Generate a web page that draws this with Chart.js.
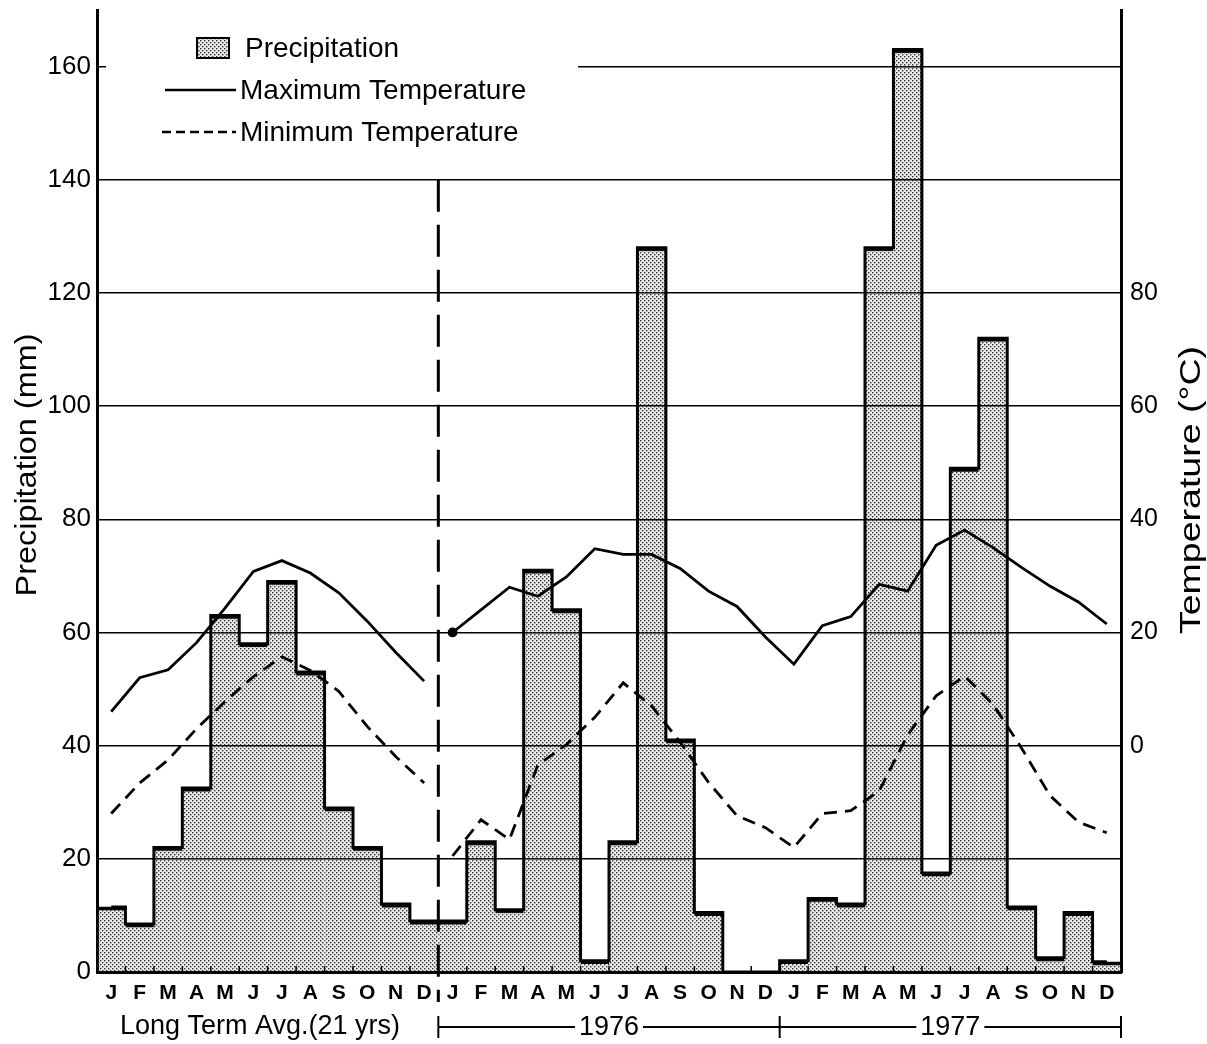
<!DOCTYPE html>
<html><head><meta charset="utf-8">
<script src="https://cdn.jsdelivr.net/npm/chart.js@4.4.1/dist/chart.umd.min.js"></script>
<style>html,body{margin:0;padding:0;background:#fff;}#wrap{width:1207px;height:1044px;position:relative;}</style>
</head><body><div id="wrap"><canvas id="c"></canvas></div>
<script>
// ---- data ----
const months = ['J','F','M','A','M','J','J','A','S','O','N','D'];
const periodLabels = ['Long Term Avg.(21 yrs)', '1976', '1977'];
const precipLongTerm = [11.5, 8.5, 22, 32.5, 63, 58, 69, 53, 29, 22, 12, 9];
const precip1976 = [9, 23, 11, 71, 64, 2, 23, 128, 41, 10.5, 0, 0];
const precip1977 = [2, 13, 12, 128, 163, 17.5, 89, 112, 11.5, 2.5, 10.5, 1.8];
const maxTempLongTerm = [6, 12, 13.4, 18.2, 24.3, 30.8, 32.7, 30.5, 27, 22, 16.5, 11.4];
const maxTemp1976 = [20, 24, 28, 26.4, 29.8, 34.8, 33.8, 33.8, 31.3, 27.3, 24.6, 19.2];
const maxTemp1977 = [14.4, 21.2, 22.8, 28.5, 27.3, 35.4, 38.1, 35, 31.5, 28.2, 25.4, 21.5];
const minTempLongTerm = [-12, -6.6, -2.5, 3, 7.8, 12.2, 15.7, 13.3, 9.6, 3.4, -1.9, -6.6];
const minTemp1976 = [-19.5, -13.1, -16.6, -3.4, 0.2, 5, 11.1, 7, 0.6, -6.5, -12.4, -14.5];
const minTemp1977 = [-18, -12, -11.5, -8, 1.9, 8.8, 12.3, 7.3, -0.4, -8.8, -13.5, -15.4];
const precipTicks = [0, 20, 40, 60, 80, 100, 120, 140, 160];
const tempTicks = [0, 20, 40, 60, 80];
const legendLabels = ['Precipitation', 'Maximum Temperature', 'Minimum Temperature'];
const axisTitles = ['Precipitation (mm)', 'Temperature (\u00B0C)'];

// ---- assembled series ----
const labels = [...months, ...months, ...months];
const precip = [...precipLongTerm, ...precip1976, ...precip1977];
const nul12 = Array(12).fill(null), nul24 = Array(24).fill(null);
const maxA = [...maxTempLongTerm, ...nul24];
const maxB = [...nul12, ...maxTemp1976, ...maxTemp1977];
const minA = [...minTempLongTerm, ...nul24];
const minB = [...nul12, ...minTemp1976, ...minTemp1977];

const FONT = "'Liberation Sans', Arial, sans-serif";
Chart.defaults.color = '#000';
Chart.defaults.font.family = FONT;

const canvas = document.getElementById('c');
const mainCtx = canvas.getContext('2d');
function stipple() {
  const c = document.createElement('canvas'); c.width = 4; c.height = 4;
  const g = c.getContext('2d');
  g.fillStyle = 'rgba(0,0,0,0.08)'; g.fillRect(0, 0, 4, 4);
  g.fillStyle = '#333';
  g.fillRect(0, 0, 1.4, 1.4); g.fillRect(2, 2, 1.4, 1.4);
  return mainCtx.createPattern(c, 'repeat');
}
const pat = stipple();

const decor = {
  id: 'decor',
  beforeDraw(chart) {
    const g = chart.ctx; g.save(); g.fillStyle = '#fff'; g.fillRect(0, 0, chart.width, chart.height); g.restore();
  },
  afterDraw(chart) {
    const g = chart.ctx, xs = chart.scales.x, ys = chart.scales.y, ca = chart.chartArea;
    const bx = i => (xs.getPixelForValue(i - 1) + xs.getPixelForValue(i)) / 2; // boundary before index i
    g.save();
    // small inside ticks on baseline at month boundaries
    g.strokeStyle = '#000'; g.lineWidth = 1.5;
    for (let i = 1; i < labels.length; i++) {
      const x = bx(i); g.beginPath(); g.moveTo(x, ca.bottom); g.lineTo(x, ca.bottom - 6); g.stroke();
    }
    // vertical dashed separator
    const sx = bx(12);
    g.lineWidth = 3; g.setLineDash([32, 13]);
    g.beginPath(); g.moveTo(sx, ys.getPixelForValue(140)); g.lineTo(sx, ca.bottom + 30); g.stroke();
    g.setLineDash([]);
    // period labels and brackets
    const by = 1027;
    g.font = '27px ' + FONT; g.textBaseline = 'middle'; g.textAlign = 'center';
    g.fillText(periodLabels[0], 260, by);
    const ex = [bx(12), bx(24), ca.right];
    g.lineWidth = 2;
    [0, 1, 2].forEach(k => { g.beginPath(); g.moveTo(ex[k], by - 11); g.lineTo(ex[k], by + 11); g.stroke(); });
    for (let k = 0; k < 2; k++) {
      const a = ex[k], b = ex[k + 1], m = (a + b) / 2;
      const w = g.measureText(periodLabels[k + 1]).width / 2 + 4;
      g.beginPath(); g.moveTo(a, by); g.lineTo(m - w, by); g.moveTo(m + w, by); g.lineTo(b, by); g.stroke();
      g.fillText(periodLabels[k + 1], m, by + 1);
    }
    // axis titles
    g.font = '30px ' + FONT;
    g.save(); g.translate(28, 465); g.rotate(-Math.PI / 2); g.scale(1.08, 1); g.fillText(axisTitles[0], 0, 0); g.restore();
    g.save(); g.translate(1192, 490); g.rotate(-Math.PI / 2); g.scale(1.25, 1); g.fillText(axisTitles[1], 0, 0); g.restore();
    // legend
    g.fillStyle = '#fff'; g.fillRect(106, 22, 472, 130);
    g.fillStyle = pat; g.fillRect(197, 38, 32, 20);
    g.strokeStyle = '#000'; g.lineWidth = 2; g.strokeRect(197, 38, 32, 20);
    g.fillStyle = '#000'; g.textAlign = 'left'; g.font = '28px ' + FONT;
    g.fillText(legendLabels[0], 245, 49);
    g.lineWidth = 2.5; g.beginPath(); g.moveTo(165, 90); g.lineTo(236, 90); g.stroke();
    g.fillText(legendLabels[1], 240, 91);
    g.setLineDash([9, 5]); g.beginPath(); g.moveTo(162, 132); g.lineTo(236, 132); g.stroke(); g.setLineDash([]);
    g.fillText(legendLabels[2], 240, 133);
    g.restore();
  }
};

new Chart(canvas, {
  data: {
    labels,
    datasets: [
      { type: 'line', label: 'maxA', data: maxA, yAxisID: 'yT', borderColor: '#000', borderWidth: 2.8, pointRadius: 0, tension: 0, spanGaps: false, order: 1 },
      { type: 'line', label: 'maxB', data: maxB, yAxisID: 'yT', borderColor: '#000', borderWidth: 2.8, tension: 0, spanGaps: false, order: 1,
        pointRadius: c => c.dataIndex === 12 ? 3.5 : 0, pointBackgroundColor: '#000', pointBorderColor: '#000' },
      { type: 'line', label: 'minA', data: minA, yAxisID: 'yT', borderColor: '#000', borderWidth: 2.8, borderDash: [13, 8], pointRadius: 0, tension: 0, order: 1 },
      { type: 'line', label: 'minB', data: minB, yAxisID: 'yT', borderColor: '#000', borderWidth: 2.8, borderDash: [13, 8], pointRadius: 0, tension: 0, order: 1 },
      { type: 'line', label: 'outline', data: precip, yAxisID: 'y', stepped: 'middle', borderColor: '#000', borderWidth: 3, pointRadius: 0, fill: false, order: 2 },
      { type: 'bar', label: 'Precipitation', data: precip, yAxisID: 'y', backgroundColor: pat,
        borderColor: '#000', borderWidth: c => ({ top: precip[c.dataIndex] > 0 ? 3 : 0, left: 0, right: 0, bottom: 0 }),
        borderSkipped: false, barPercentage: 1, categoryPercentage: 1, order: 3 }
    ]
  },
  options: {
    responsive: true, maintainAspectRatio: false, animation: false,
    layout: { padding: { top: 10, left: 0, right: 0, bottom: 0 } },
    plugins: { legend: { display: false }, tooltip: { enabled: false } },
    scales: {
      x: {
        position: 'bottom',
        grid: { display: false, drawTicks: false },
        border: { display: true, color: '#000', width: 3 },
        ticks: { font: { size: 21, weight: 'bold' }, padding: 9, maxRotation: 0, autoSkip: false },
        afterFit: s => { s.height = 72; s.paddingLeft = 0; s.paddingRight = 0; }
      },
      y: {
        position: 'left', min: 0, max: 170,
        afterBuildTicks: a => { a.ticks = precipTicks.map(v => ({ value: v })); },
        grid: { color: '#000', lineWidth: 1.4, drawTicks: false },
        border: { color: '#000', width: 3 },
        ticks: { font: { size: 26 }, padding: 6 },
        afterFit: s => { s.width = 97; s.paddingTop = 0; s.paddingBottom = 0; }
      },
      yT: {
        position: 'right', min: -40, max: 130,
        afterBuildTicks: a => { a.ticks = tempTicks.map(v => ({ value: v })); },
        grid: { drawOnChartArea: false, drawTicks: false },
        border: { color: '#000', width: 3 },
        ticks: { font: { size: 25 }, padding: 9 },
        afterFit: s => { s.width = 86; s.paddingTop = 0; s.paddingBottom = 0; }
      }
    }
  },
  plugins: [decor]
});
</script></body></html>
